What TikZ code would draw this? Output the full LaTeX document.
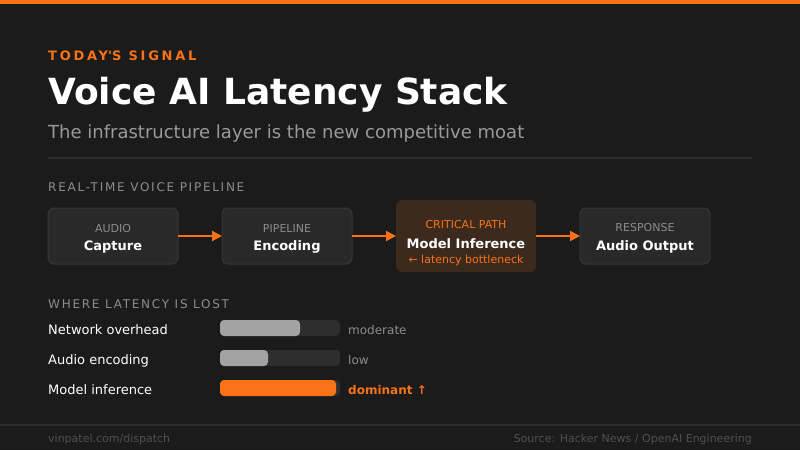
\documentclass[tikz,border=0pt]{standalone}
\usepackage{fontspec}
\setmainfont{DejaVu Sans}
\usetikzlibrary{arrows.meta,positioning}
\definecolor{page}{HTML}{1B1B1B}
\definecolor{accent}{HTML}{F97316}
\definecolor{cardfill}{HTML}{292929}
\definecolor{cardline}{HTML}{363636}
\definecolor{hotfill}{HTML}{3B2A1D}
\definecolor{muted}{HTML}{8C8C8C}
\definecolor{soft}{HTML}{9A9A9A}
\definecolor{track}{HTML}{2E2E2E}
\definecolor{bargray}{HTML}{A3A3A3}
\definecolor{faint}{HTML}{4F4F4F}
\definecolor{rule}{HTML}{2C2C2C}
\newcommand{\fsz}[1]{\fontsize{#1}{#1}\selectfont}
\tikzstyle{card} = [draw=cardline,fill=cardfill,line width=1pt,rounded corners=6pt,minimum width=130pt,minimum height=56pt,inner sep=0pt,outer sep=0pt]
\tikzstyle{hotcard} = [card,draw=none,fill=hotfill,minimum width=140pt,minimum height=72pt]
\tikzstyle{kind} = [font=\fsz{11},text=muted,anchor=base]
\tikzstyle{stage} = [font=\bfseries\fsz{13},text=white,anchor=base]
\tikzstyle{flow} = [accent,line width=2pt,-{Triangle[length=10pt,width=10pt]}]
\tikzstyle{txt} = [anchor=base west,inner sep=0pt]
\tikzstyle{section} = [txt,font=\fsz{12}\addfontfeature{LetterSpace=14.5},text=muted]
\tikzstyle{mutedval} = [txt,font=\fsz{12},text=muted]
\tikzstyle{hotval} = [txt,font=\bfseries\fsz{12},text=accent]

\begin{document}
\begin{tikzpicture}[x=1pt,y=-1pt]
	\useasboundingbox (0,0) rectangle (800,450);
	\fill[page] (0,0) rectangle (800,450);
	\fill[accent] (0,0) rectangle (800,4);

	\node[txt,font=\bfseries\fsz{13}\addfontfeature{LetterSpace=21},text=accent] (kicker) at (48,60) {TODAY\textquotesingle S SIGNAL};
	\node[txt,font=\bfseries\fsz{36},text=white] (title) at (48,104.5) {Voice AI Latency Stack};
	\node[txt,font=\fsz{18},text=soft] (subtitle) at (48,138) {The infrastructure layer is the new competitive moat};
	\draw[rule,line width=1.5pt] (48,158) -- (752,158);

	\node[section] (pipeline) at (48,191) {REAL-TIME VOICE PIPELINE};
	\node[card] (capture) at (113,236) {};
	\node[card,right=44pt of capture] (encoding) {};
	\node[hotcard,right=44pt of encoding] (inference) {};
	\node[card,right=44pt of inference] (output) {};

	\node[kind] at ([yshift=4pt]capture.center) {AUDIO};
	\node[stage] at ([yshift=-14pt]capture.center) {Capture};
	\node[kind] at ([yshift=4pt]encoding.center) {PIPELINE};
	\node[stage] at ([yshift=-14pt]encoding.center) {Encoding};
	\node[kind,text=accent] at ([yshift=7.7pt]inference.center) {CRITICAL PATH};
	\node[stage] at ([yshift=-12.3pt]inference.center) {Model Inference};
	\node[kind,text=accent] at ([yshift=-27.3pt]inference.center) {← latency bottleneck};
	\node[kind] at ([yshift=4.3pt]output.center) {RESPONSE};
	\node[stage] at ([yshift=-14pt]output.center) {Audio Output};

	\foreach \a/\b in {capture/encoding,encoding/inference,inference/output}
		\draw[flow] (\a) -- (\b);

	\node[section] (lost) at (48,308) {WHERE LATENCY IS LOST};
	\foreach \i/\name/\len/\col/\val/\vs in {0/Network overhead/80/bargray/moderate/mutedval,1/Audio encoding/48/bargray/low/mutedval,2/Model inference/116/accent/dominant ↑/hotval}
	{
		\node[txt,font=\fsz{13},text=white] (row \i) at (48,{334+30*\i}) {\name};
		\fill[track,rounded corners=4pt] (220,{320+30*\i}) rectangle (340,{336+30*\i});
		\fill[\col,rounded corners=4pt] (220,{320+30*\i}) rectangle ({220+\len},{336+30*\i});
		\node[\vs] (val \i) at (348,{334+30*\i}) {\val};
	}

	\draw[rule,line width=1.5pt] (0,425) -- (800,425);
	\node[txt,font=\fsz{11},text=faint] (site) at (48,442) {vinpatel.com/dispatch};
	\node[txt,anchor=base east,font=\fsz{11},text=faint] (source) at (752,442) {Source: Hacker News / OpenAI Engineering};
\end{tikzpicture}
\end{document}
